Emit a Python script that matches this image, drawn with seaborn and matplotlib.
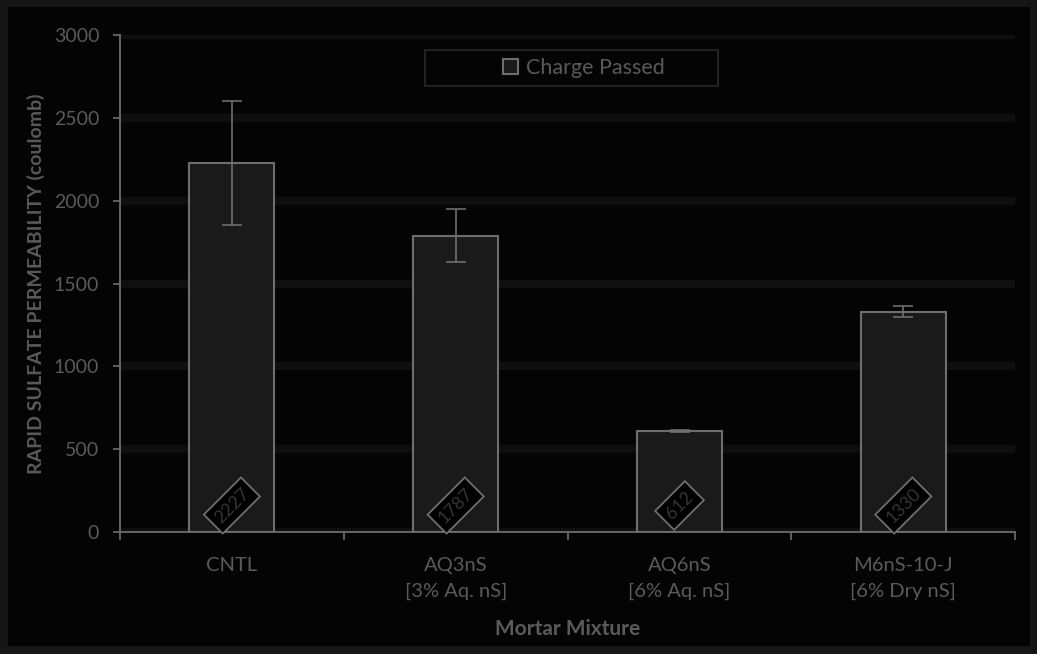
"""
Rapid sulfate permeability by mortar mixture
"""

import numpy as np
import matplotlib.pyplot as plt
import matplotlib.patches as mpatches
import seaborn as sns
import pandas as pd

# Data
mixtures = ['CNTL', 'AQ3nS\n[3% Aq. nS]', 'AQ6nS\n[6% Aq. nS]', 'M6nS-10-J\n[6% Dry nS]']
charge = [2227, 1787, 612, 1330]
charge_err = [375, 160, 6, 35]
yticks = [0, 500, 1000, 1500, 2000, 2500, 3000]

df = pd.DataFrame({'Mixture': mixtures, 'Charge': charge})

sns.set_theme(style='dark')
plt.rcParams['font.family'] = ['Lato', 'DejaVu Sans']

txt = '#5a5a5a'
edge = '#6e6e6e'
bg = '#040404'

fig = plt.figure(figsize=(10.37, 6.54), dpi=100, facecolor='#161616')
# black chart area inside the grey frame
fig.patches.append(mpatches.Rectangle((0.008, 0.012), 0.985, 0.978, transform=fig.transFigure,
                                      facecolor=bg, edgecolor='none', zorder=-10))
ax = fig.add_axes([0.1157, 0.1865, 0.8633, 0.76])
ax.set_facecolor(bg)

sns.barplot(data=df, x='Mixture', y='Charge', color='#1a1a1a', edgecolor=edge,
            linewidth=1.5, width=0.38, errorbar=None, ax=ax, label='Charge Passed')

x = np.arange(len(mixtures))
ax.errorbar(x, charge, yerr=charge_err, fmt='none', ecolor=edge, elinewidth=1.2,
            capsize=7, capthick=1.2, zorder=5)

# rotated value labels near the bottom of each bar
for xi, v in zip(x, charge):
    ax.text(xi, 160, str(v), rotation=45, ha='center', va='center', fontsize=13,
            color='#353535', zorder=6,
            bbox=dict(boxstyle='square,pad=0.3', facecolor='#000000', edgecolor=edge, linewidth=1.3))

ax.set_ylim(0, 3000)
ax.set_xlim(-0.5, len(mixtures) - 0.5)
ax.set_yticks(yticks)
ax.yaxis.grid(True, color='#0f0f0f', linewidth=6)
ax.xaxis.grid(False)
ax.set_axisbelow(True)

for s in ['top', 'right']:
    ax.spines[s].set_visible(False)
for s in ['left', 'bottom']:
    ax.spines[s].set_visible(True)
    ax.spines[s].set_color(edge)
    ax.spines[s].set_linewidth(1.3)

ax.tick_params(axis='y', colors=edge, labelcolor=txt, labelsize=14, length=5, width=1.2,
               left=True, direction='out', pad=10)
ax.set_xticks(x)
ax.set_xticklabels(mixtures, color=txt, fontsize=14.5, linespacing=1.6)
ax.tick_params(axis='x', length=0, pad=18)
# category boundary ticks
ax.set_xticks(np.arange(-0.5, len(mixtures)), minor=True)
ax.tick_params(axis='x', which='minor', colors=edge, length=6, width=1.2, bottom=True)

ax.set_xlabel('Mortar Mixture', color=txt, fontsize=15, fontweight='bold', labelpad=14)
ax.set_ylabel('RAPID SULFATE PERMEABILITY (coulomb)', color=txt, fontsize=14,
              fontweight='bold', labelpad=6)

# legend with a wide frame as in the original
ax.add_patch(mpatches.Rectangle((0.341, 0.897), 0.327, 0.073, transform=ax.transAxes,
                                facecolor=bg, edgecolor='#222222', linewidth=1.5, zorder=7))
leg = ax.legend(loc='center', bbox_to_anchor=(0.518, 0.934), frameon=False,
                fontsize=15.5, handlelength=0.7, handleheight=0.7, handletextpad=0.4)
leg.set_zorder(8)
for t in leg.get_texts():
    t.set_color(txt)
for h in leg.legend_handles:
    h.set_edgecolor(edge)

plt.savefig('out.png', dpi=100, facecolor=fig.get_facecolor())
plt.close()
